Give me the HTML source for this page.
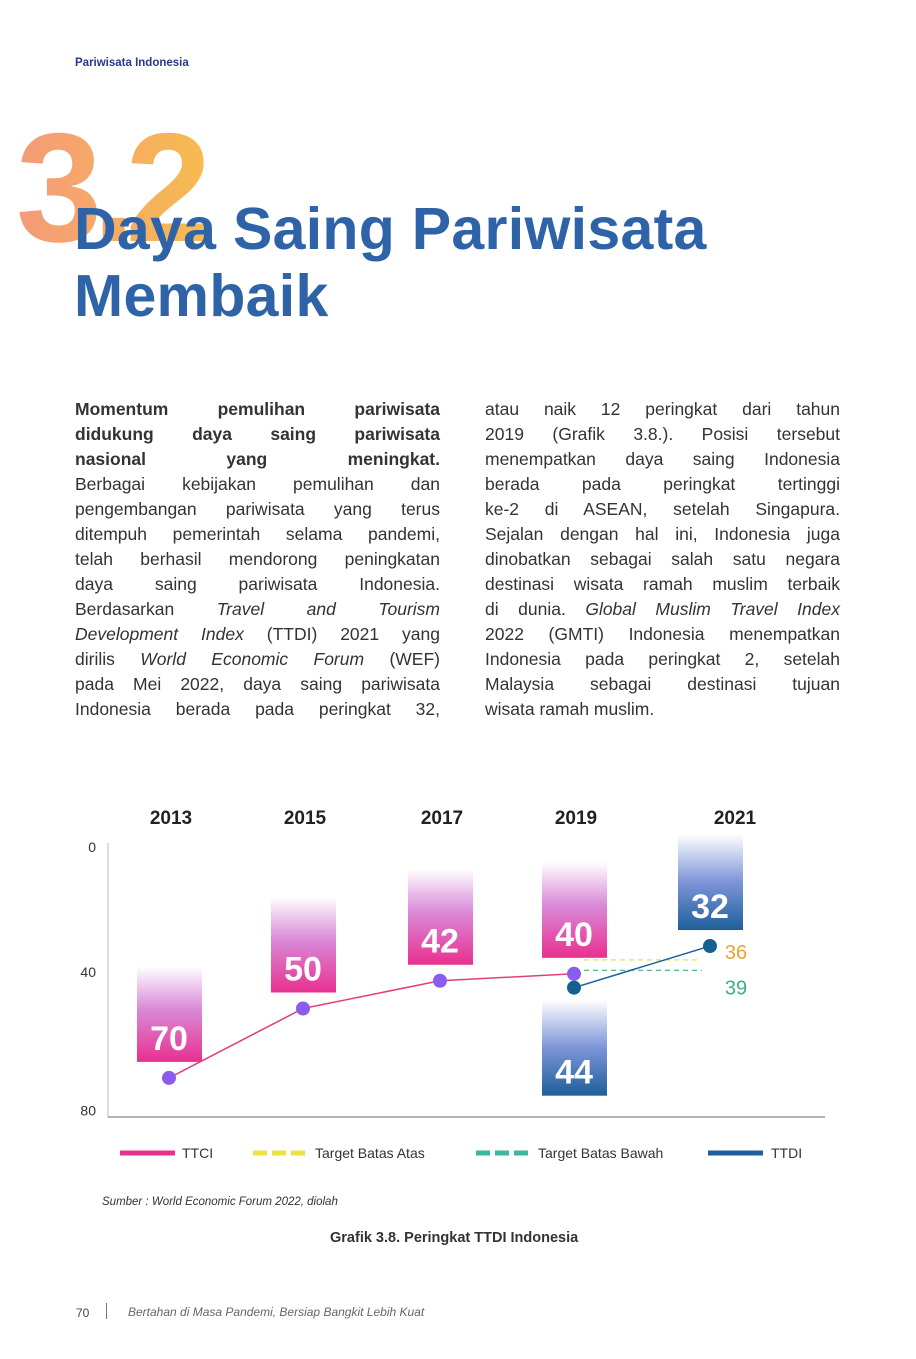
<!DOCTYPE html>
<html><head><meta charset="utf-8">
<style>
body{margin:0;background:#fff;width:916px;height:1359px;position:relative;overflow:hidden;font-family:"Liberation Sans",sans-serif;}
.abs{position:absolute;}
.p{position:absolute;top:397px;font-size:17.5px;line-height:25px;color:#333;}
.p div{text-align:justify;text-align-last:justify;white-space:nowrap;}
.p div.l{text-align-last:left;}
</style></head><body>
<div class="abs" style="left:75px;top:57px;font-size:11.5px;font-weight:bold;color:#2a3a8a;">Pariwisata Indonesia</div>
<div class="abs" style="left:16px;top:110px;padding-right:30px;font-size:155px;font-weight:bold;letter-spacing:-10px;background:linear-gradient(90deg,#f59a7a,#f7c04a);-webkit-background-clip:text;background-clip:text;color:transparent;line-height:1;">3.2</div>
<div class="abs" style="left:74px;top:196px;font-size:59px;font-weight:bold;color:#2e63a8;line-height:67px;letter-spacing:0.3px;">Daya Saing Pariwisata<br>Membaik</div>
<div class="p" style="left:75px;width:365px;">
<div><b>Momentum pemulihan pariwisata</b></div>
<div><b>didukung daya saing pariwisata</b></div>
<div><b>nasional yang meningkat.</b></div>
<div>Berbagai kebijakan pemulihan dan</div>
<div>pengembangan pariwisata yang terus</div>
<div>ditempuh pemerintah selama pandemi,</div>
<div>telah berhasil mendorong peningkatan</div>
<div>daya saing pariwisata Indonesia.</div>
<div>Berdasarkan <i>Travel and Tourism</i></div>
<div><i>Development Index</i> (TTDI) 2021 yang</div>
<div>dirilis <i>World Economic Forum</i> (WEF)</div>
<div>pada Mei 2022, daya saing pariwisata</div>
<div>Indonesia berada pada peringkat 32,</div>
</div>
<div class="p" style="left:485px;width:355px;">
<div>atau naik 12 peringkat dari tahun</div>
<div>2019 (Grafik 3.8.). Posisi tersebut</div>
<div>menempatkan daya saing Indonesia</div>
<div>berada pada peringkat tertinggi</div>
<div>ke-2 di ASEAN, setelah Singapura.</div>
<div>Sejalan dengan hal ini, Indonesia juga</div>
<div>dinobatkan sebagai salah satu negara</div>
<div>destinasi wisata ramah muslim terbaik</div>
<div>di dunia. <i>Global Muslim Travel Index</i></div>
<div>2022 (GMTI) Indonesia menempatkan</div>
<div>Indonesia pada peringkat 2, setelah</div>
<div>Malaysia sebagai destinasi tujuan</div>
<div class="l">wisata ramah muslim.</div>
</div>

<svg class="abs" style="left:0;top:0" width="916" height="1359" id="chart">
<defs>
<linearGradient id="gp" x1="0" y1="0" x2="0" y2="1"><stop offset="0" stop-color="#fff"/><stop offset="0.45" stop-color="#d98ad8"/><stop offset="1" stop-color="#e8308f"/></linearGradient>
<linearGradient id="gb" x1="0" y1="0" x2="0" y2="1"><stop offset="0" stop-color="#fff"/><stop offset="0.5" stop-color="#7d95d8"/><stop offset="1" stop-color="#1d5f9a"/></linearGradient>
</defs>
<g id="marks"></g>
</svg>
<div class="abs" style="left:102px;top:1196px;font-size:11.5px;font-style:italic;color:#333;">Sumber : World Economic Forum 2022, diolah</div>
<div class="abs" style="left:330px;top:1230px;font-size:14.5px;font-weight:bold;color:#333;">Grafik 3.8. Peringkat TTDI Indonesia</div>
<div class="abs" style="left:76px;top:1306px;font-size:12px;color:#444;">70</div>
<div class="abs" style="left:106px;top:1303px;width:1px;height:16px;background:#777;"></div>
<div class="abs" style="left:128px;top:1305px;font-size:12px;font-style:italic;color:#666;">Bertahan di Masa Pandemi, Bersiap Bangkit Lebih Kuat</div>
<script>
const years=["2013","2015","2017","2019","2021"];
const ttci=[70,50,42,40,null];
const ttdi=[null,null,null,44,32];
const targetUpper=36;
const targetLower=39;
const yTicks=[0,40,80];
const NS="http://www.w3.org/2000/svg";
const g=document.getElementById('marks');
const xs=[169,303,440,574,710];
function x(i){return xs[i];}
function y(v){return 835+v*3.47;}
function mk(t,a,txt){const e=document.createElementNS(NS,t);for(const k in a)e.setAttribute(k,a[k]);if(txt!=null)e.textContent=txt;g.appendChild(e);return e;}
let e;
e=mk('line',{x1:108,y1:843,x2:108,y2:1117,stroke:'#bbb','stroke-width':1});

e=mk('line',{x1:108,y1:1117,x2:825,y2:1117,stroke:'#999','stroke-width':1.5});

yTicks.forEach(v=>{const yy=v===0?y(v)+17:y(v)+3;
e=mk('text',{x:96,y:yy,'text-anchor':'end','font-size':14,fill:'#333'},String(v));
});
years.forEach((yr,i)=>{e=mk('text',{x:x(i)+(i===4?25:2),y:824,'text-anchor':'middle','font-size':19,'font-weight':'bold',fill:'#222'},yr);
});
function box(i,v,above,grad,name){const py=y(v);const top=above?py-16-96:py+12;
e=mk('rect',{x:x(i)-32,y:top,width:65,height:96,fill:'url(#'+grad+')'});

e=mk('text',{x:x(i),y:top+84,'text-anchor':'middle','font-size':34,'font-weight':'bold',fill:'#fff'},String(v));
}
ttci.forEach((v,i)=>{if(v!=null)box(i,v,true,'gp','ttci');});
ttdi.forEach((v,i)=>{if(v!=null)box(i,v,i===4,'gb','ttdi');});
e=mk('line',{x1:x(3)+10,y1:y(targetUpper),x2:x(4)-10,y2:y(targetUpper),stroke:'#e8d84a','stroke-width':1.2,'stroke-dasharray':'5,4'});

e=mk('line',{x1:x(3)+10,y1:y(targetLower),x2:x(4)-8,y2:y(targetLower),stroke:'#3aae8a','stroke-width':1.2,'stroke-dasharray':'5,4'});

e=mk('text',{x:736,y:y(targetUpper)-1,'text-anchor':'middle','font-size':20,fill:'#f0a030'},String(targetUpper));

e=mk('text',{x:736,y:y(targetLower)+24,'text-anchor':'middle','font-size':20,fill:'#3aae8a'},String(targetLower));

function line(arr,color,dot,name){let pts=[];arr.forEach((v,i)=>{if(v!=null)pts.push(x(i)+','+y(v));});
e=mk('polyline',{points:pts.join(' '),fill:'none',stroke:color,'stroke-width':1.5});

arr.forEach((v,i)=>{if(v!=null){e=mk('circle',{cx:x(i),cy:y(v),r:7,fill:dot});
}});}
line(ttci,'#e0407a','#8b5cf0','ttci');
line(ttdi,'#1d5f9a','#14608f','ttdi');
const leg=[['TTCI','#e8308f',false,120,182],['Target Batas Atas','#f0e040',true,253,315],['Target Batas Bawah','#3ab8a0',true,476,538],['TTDI','#1d5f9a',false,708,771]];
leg.forEach(l=>{e=mk('line',{x1:l[3],y1:1153,x2:l[3]+55,y2:1153,stroke:l[1],'stroke-width':5,'stroke-dasharray':l[2]?'14,5':'none'});

e=mk('text',{x:l[4],y:1158,'font-size':14,fill:'#333'},l[0]);
});
</script>
</body></html>
